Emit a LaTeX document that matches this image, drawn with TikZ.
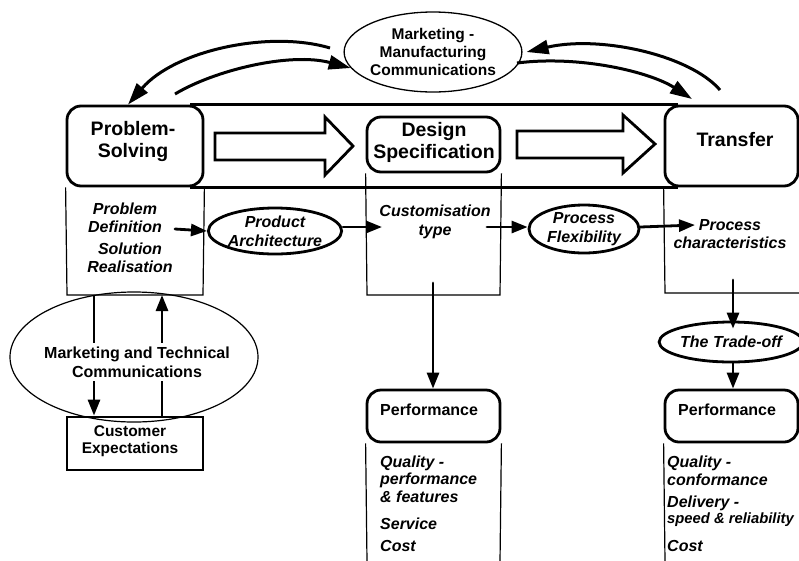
\documentclass[tikz,border=0pt]{standalone}
\usepackage{fontspec}
\setmainfont{Liberation Sans}
\usetikzlibrary{arrows.meta,shapes.geometric,calc}
\begin{document}
\begin{tikzpicture}[x=1pt,y=-1pt,
  thk/.style={line width=2.8pt},
  thn/.style={line width=1.2pt},
  rbox/.style={draw,line width=2.8pt,rounded corners=14pt,inner sep=0pt},
  sbox/.style={draw,line width=2.8pt,inner sep=0pt},
  title/.style={font=\fontsize{19.5}{22}\selectfont\bfseries,align=center,inner sep=0pt},
  lab/.style={font=\fontsize{16}{19}\selectfont\bfseries,align=center,inner sep=0pt},
  ilab/.style={font=\fontsize{16}{18.5}\selectfont\bfseries\itshape,align=center,inner sep=0pt},
  llab/.style={font=\fontsize{16}{17}\selectfont\bfseries\itshape,anchor=west,inner sep=0pt},
  oval/.style={draw,ellipse,line width=2.8pt,inner sep=0pt,font=\fontsize{16}{19}\selectfont\bfseries\itshape,align=center},
  arr/.style={line width=2.8pt,line cap=round,-{Triangle[length=16pt,width=12pt]}},
  carr/.style={line width=3pt,-{Triangle[length=22pt,width=14pt]}},
  block/.style={line width=2.8pt,line join=miter}
]
\useasboundingbox (0,0) rectangle (799,560);
\fill[white] (0,0) rectangle (799,560);

% top ellipse
\node[draw,ellipse,line width=1.3pt,minimum width=164pt,minimum height=80pt,inner sep=0pt,
  font=\fontsize{15.5}{18}\selectfont\bfseries,align=center] (MM) at (433,52) {Marketing -\\Manufacturing\\Communications};

% band
\node[rbox,minimum width=136pt,minimum height=80pt] (PS) at (135,146) {};
\node[rbox,minimum width=133pt,minimum height=80pt] (TR) at (731.5,146) {};
\node[rbox,minimum width=133pt,minimum height=55pt] (DS) at (433.5,144.5) {};
\draw[thk] (PS.north east) ++(-14,0) -- ($(TR.north west)+(14,0)$);
\draw[thk] (PS.south east) ++(-14,0) -- ($(TR.south west)+(14,0)$);
\node[title] (PSt) at (133,141) {Problem-\\Solving};
\node[title] (DSt) at (434,142) {Design\\Specification};
\node[title] (TRt) at (735,140) {Transfer};

% block arrows
\draw[block] (215,133) -- (325,133) -- (325,117) -- (353,146) -- (325,175) -- (325,160) -- (215,160) -- cycle;
\draw[block] (517,131) -- (623,131) -- (623,115) -- (655,144) -- (623,173) -- (623,158) -- (517,158) -- cycle;

% thin lower rectangles
\draw[thn] (PS.south west) -- (67,295) -- (203,295) -- (PS.south east);
\draw[thn] (DS.south west) -- (367,295) -- (500,295) -- (DS.south east);
\draw[thn] (TR.south west) -- (665,293) -- (799,293);

% curved arrows
\coordinate (m1) at (330,48);
\coordinate (m2) at (175,94);
\coordinate (m3) at (720,90);
\coordinate (m4) at (517,63);
\coordinate (t4) at (692,99);
\draw[carr] (m1) .. controls (270,30) and (175,50) .. ($(PS.north)+(-7,0)$);
\draw[carr] (m2) .. controls (215,70) and (290,52) .. (MM.191);
\draw[carr] (m3) .. controls (690,55) and (600,35) .. ($(MM.east)+(4,0)$);
\draw[carr] (m4) .. controls (580,55) and (650,72) .. (t4);

% middle row
\node[ilab] (PD) at (125,218) {Problem\\Definition};
\node[ilab] (SR) at (130,258) {Solution\\Realisation};
\node[oval,minimum width=114pt,minimum height=46pt] (PA) at (275,231) {Product\\Architecture};
\node[ilab] (CT) at (435,222) {Customisation\\type};
\node[oval,minimum width=110pt,minimum height=48pt] (PF) at (584,229) {Process\\Flexibility};
\node[ilab] (PC) at (730,234) {Process\\characteristics};
\coordinate (a1) at (175,229);
\coordinate (a2) at (382,227);
\coordinate (a3) at (487,227);
\coordinate (a4) at (695,225);
\draw[arr] (a1) -- (PA.west);
\draw[arr] ($(PA.east)+(0,-4)$) -- (a2);
\draw[arr] (a3) -- (a3 -| PF.west);
\draw[arr] ($(PF.east)+(0,-2)$) -- (a4);

% left ellipse
\node[draw,ellipse,line width=1.2pt,minimum width=248pt,minimum height=130pt,inner sep=0pt] (MT) at (134,357) {};
\node[sbox,minimum width=136pt,minimum height=53pt] (CE) at (135,443.5) {};
\node[lab,font=\fontsize{15.5}{17}\selectfont\bfseries] (CEt) at (130,441) {Customer\\Expectations};
\coordinate (l1) at (94,295);
\coordinate (l2) at (162,295);
\draw[arr,line cap=butt] (l1) -- (l1 |- CE.north);
\draw[arr,line cap=butt] (l2 |- CE.north) -- (l2);
\node[lab,fill=white,inner xsep=1pt,inner ysep=4pt] (MTt) at (137,362) {Marketing and Technical\\Communications};

% right column
\coordinate (v1) at (433,283);
\coordinate (v2) at (733,280);
\node[oval,minimum width=134pt,minimum height=40pt] (TO) at (731,342) {The Trade-off};
\node[rbox,minimum width=133pt,minimum height=52pt] (P1) at (433.5,416) {};
\node[rbox,minimum width=133pt,minimum height=52pt] (P2) at (731.5,416) {};
\draw[arr] (v1) -- (v1 |- P1.north);
\draw[arr] (v2) -- ($(v2 |- TO.north)+(0,8)$);
\draw[arr] (TO.south -| v2) -- (v2 |- P2.north);
\node[lab,anchor=west] (P1t) at (380,410) {Performance};
\node[lab,anchor=west] (P2t) at (678,410) {Performance};
\draw[thn] (P1.south west) -- (367,562);
\draw[thn] (P1.south east) -- (500,562);
\draw[thn] (P2.south west) -- (665,562);

\node[llab] (q1) at (380,463) {Quality -};
\node[llab] (q2) at (380,480) {performance};
\node[llab] (q3) at (380,497) {\& features};
\node[llab] (q4) at (380,524) {Service};
\node[llab] (q5) at (380,546) {Cost};
\node[llab] (r1) at (667,463) {Quality -};
\node[llab] (r2) at (667,480) {conformance};
\node[llab] (r3) at (667,503) {Delivery -};
\node[llab,font=\fontsize{14.8}{17}\selectfont\bfseries\itshape] (r4) at (667,520) {speed \& reliability};
\node[llab] (r5) at (667,546) {Cost};
\end{tikzpicture}
\end{document}
